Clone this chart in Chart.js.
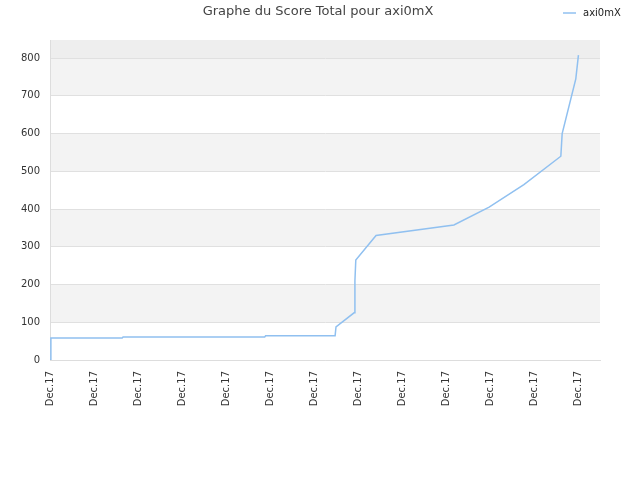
<!DOCTYPE html>
<html><head><meta charset="utf-8">
<script src="https://cdn.jsdelivr.net/npm/chart.js@4"></script>
<style>html,body{margin:0;padding:0;background:#fff}#w{width:640px;height:480px}</style>
</head><body><div id="w"><canvas id="c"></canvas></div>
<script>
const xValues = [0, 0.2, 16.4, 16.6, 48.8, 49.0, 64.8, 65.0, 69.1, 69.3, 69.5, 74.1, 91.8, 99.8, 107.7, 116.1, 116.4, 119.5, 120.1];
const scores  = [0, 58, 58, 61, 61, 64, 64, 88, 125, 210, 265, 330, 358, 405, 465, 540, 600, 745, 808];
const tickPositions = [0,10,20,30,40,50,60,70,80,90,100,110,120];
const tickLabel = "Dec.17";
const seriesName = "axi0mX";
const titleText = "Graphe du Score Total pour axi0mX";

const deco = {
  id:'deco',
  beforeDraw(ch){
    const {ctx, chartArea:a, scales:{y}} = ch;
    ctx.save();
    for(let v=100; v<800; v+=200){
      const t=y.getPixelForValue(v+100), b=y.getPixelForValue(v);
      ctx.fillStyle='#f3f3f3'; ctx.fillRect(a.left,t,a.right-a.left,b-t);
    }
    const t8=y.getPixelForValue(800);
    ctx.fillStyle='#eeeeee'; ctx.fillRect(a.left,a.top,a.right-a.left,t8-a.top);
    ctx.restore();
  },
  afterDraw(ch){
    const ctx=ch.ctx; ctx.save();
    ctx.fillStyle='#444'; ctx.font='13px "DejaVu Sans"'; ctx.textAlign='center'; ctx.textBaseline='middle';
    ctx.fillText(titleText, 318, 12);
    ctx.strokeStyle='#90c0f0'; ctx.lineWidth=1.5;
    ctx.beginPath(); ctx.moveTo(563,13); ctx.lineTo(576,13); ctx.stroke();
    ctx.fillStyle='#222'; ctx.font='10px "DejaVu Sans"'; ctx.textAlign='left';
    ctx.fillText(seriesName, 583, 13);
    ctx.restore();
  }
};

new Chart(document.getElementById('c'), {
  type:'line',
  data:{datasets:[{label:seriesName, data:xValues.map((x,i)=>({x, y:scores[i]})),
    borderColor:'#90c0f0', borderWidth:1.5, pointRadius:0, fill:false, tension:0}]},
  options:{
    responsive:true, maintainAspectRatio:false, animation:false,
    layout:{padding:{top:40, right:40, left:0, bottom:0}},
    plugins:{legend:{display:false}, title:{display:false}, tooltip:{enabled:false}},
    scales:{
      x:{type:'linear', min:0, max:125,
        afterBuildTicks(s){ s.ticks = tickPositions.map(v=>({value:v})); },
        afterFit(s){ s.height=120; },
        grid:{display:false, drawTicks:true}, border:{color:'#ddd'},
        ticks:{callback:()=>tickLabel, maxRotation:90, minRotation:90, autoSkip:false, color:'#333', font:{size:10, family:'DejaVu Sans'}}},
      y:{min:0, max:848,
        afterBuildTicks(s){ s.ticks=[0,100,200,300,400,500,600,700,800].map(v=>({value:v})); },
        afterFit(s){ s.width=50; },
        grid:{color:'#e0e0e0', drawTicks:false}, border:{color:'#ddd'},
        ticks:{padding:10, color:'#333', font:{size:10, family:'DejaVu Sans'}}}
    }
  },
  plugins:[deco]
});
</script></body></html>
